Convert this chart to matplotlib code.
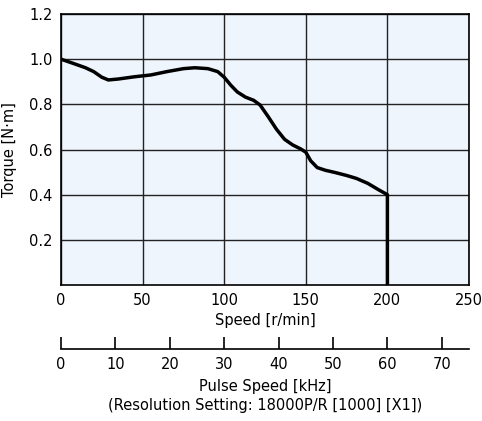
import matplotlib
matplotlib.use("Agg")
import matplotlib.pyplot as plt

plt.rcParams['font.family'] = ['Liberation Sans Narrow', 'DejaVu Sans']

# torque curve
speed = [0, 8, 15, 20, 25, 29, 35, 45, 55, 65, 75, 82, 90, 96, 100, 104,
         108, 113, 118, 122, 127, 132, 137, 142, 147, 150, 153, 157, 162,
         168, 175, 181, 188, 195, 200, 200]
torque = [1.0, 0.98, 0.962, 0.945, 0.92, 0.908, 0.912, 0.922, 0.93, 0.945,
          0.958, 0.962, 0.958, 0.945, 0.92, 0.885, 0.855, 0.832, 0.818,
          0.797, 0.745, 0.69, 0.645, 0.62, 0.602, 0.588, 0.55, 0.52,
          0.508, 0.498, 0.485, 0.472, 0.45, 0.42, 0.40, 0.0]

speed_ticks = [0, 50, 100, 150, 200, 250]
torque_ticks = [0.2, 0.4, 0.6, 0.8, 1.0, 1.2]
pulse_ticks = [0, 10, 20, 30, 40, 50, 60, 70]

fig = plt.figure(figsize=(4.82, 4.21), dpi=100)
W, H = 482, 421

ax = fig.add_axes([61 / W, 1 - 285 / H, 408 / W, 271 / H])
ax.set_facecolor('#eef5fc')
ax.plot(speed, torque, color='black', lw=2.5, solid_joinstyle='round',
        solid_capstyle='butt', zorder=3)
ax.set_xlim(0, 250)
ax.set_ylim(0, 1.2)
ax.set_xticks(speed_ticks)
ax.set_yticks(torque_ticks)
ax.set_yticklabels(['%.1f' % t for t in torque_ticks])
ax.grid(True, color='#222222', lw=1.0)
ax.tick_params(length=0, labelsize=10.5, pad=6)
ax.tick_params(axis='x', pad=6)
for s in ax.spines.values():
    s.set_linewidth(1.2)
ax.set_xlabel('Speed [r/min]', fontsize=10.5, labelpad=3)
ax.set_ylabel('Torque [N·m]', fontsize=10.5)
ax.yaxis.set_label_coords(-0.108, 0.5)

# pulse speed scale: 60 kHz matches 200 r/min
ax2 = fig.add_axes([61 / W, 1 - 349 / H, 408 / W, 0.0001])
ax2.set_xlim(0, 75)
ax2.set_xticks(pulse_ticks)
ax2.set_yticks([])
for k in ['top', 'left', 'right']:
    ax2.spines[k].set_visible(False)
ax2.spines['bottom'].set_linewidth(1.2)
ax2.patch.set_visible(False)
ax2.tick_params(axis='x', direction='in', length=9, width=1.2,
                labelsize=10.5, pad=5.5)
ax2.set_xlabel('Pulse Speed [kHz]\n(Resolution Setting: 18000P/R [1000] [X1])',
               fontsize=10.5, labelpad=5, linespacing=1.35)

fig.savefig('out.png', dpi=100)
